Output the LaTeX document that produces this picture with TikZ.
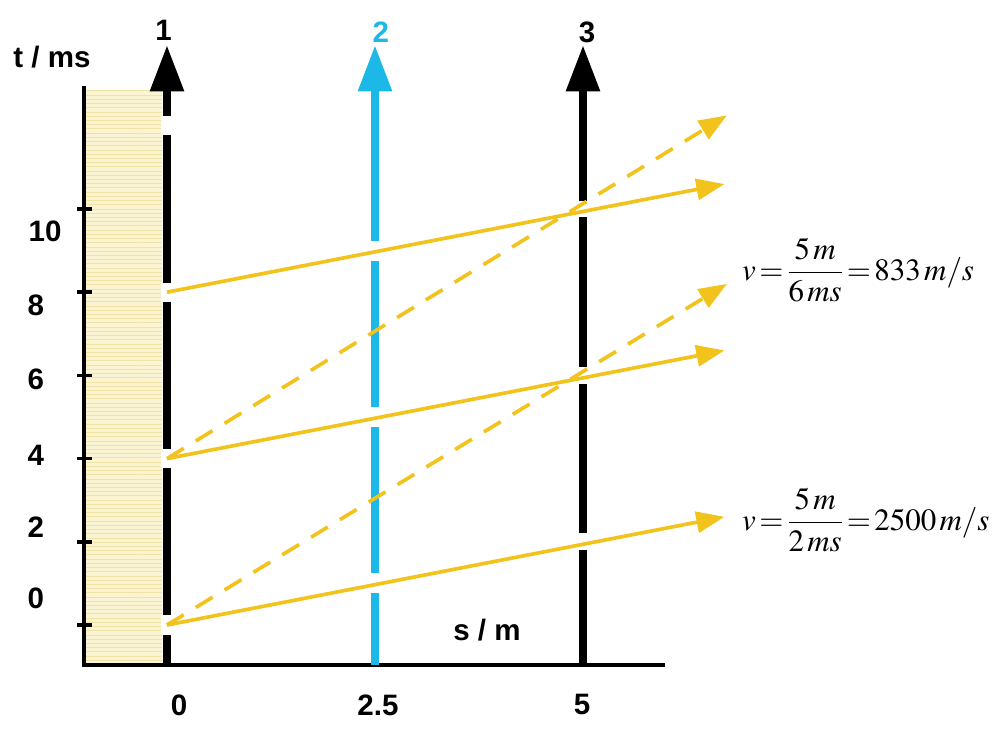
\documentclass[tikz,border=0pt]{standalone}
\usepackage{mathptmx}
\usepackage{fontspec}
\setmainfont{Liberation Serif}
\newfontfamily\labfont{Liberation Sans}
\usetikzlibrary{arrows.meta, patterns}
\definecolor{waveyellow}{HTML}{F2C31C}
\definecolor{probeblue}{HTML}{1CB8E8}
\definecolor{rodfill}{HTML}{FBF4D2}
\definecolor{rodline}{HTML}{EFE3A6}

\begin{document}
\begin{tikzpicture}[
  x=2.08cm, y=1.04cm,
  axis/.style={line width=2.6pt},
  probe/.style={line width=5.8pt, -{Triangle[length=33pt,width=23pt]}},
  gap/.style={draw=white, line width=8pt},
  wave/.style={draw=waveyellow, line width=2.6pt, -{Triangle[length=20pt,width=15pt]}},
  slowwave/.style={wave, dash pattern=on 14pt off 10pt},
  lbl/.style={font=\labfont\bfseries\fontsize{21}{24}\selectfont, inner sep=0pt},
  formula/.style={font=\fontsize{22}{26}\selectfont, inner sep=0pt, anchor=west}
]
  \useasboundingbox (-2.007,-2.788) rectangle (9.940,15.024);

  % rod
  \fill[rodfill] (-0.974,-0.96) rectangle (-0.06,12.86);
  \fill[pattern=horizontal lines, pattern color=rodline] (-0.974,-0.96) rectangle (-0.06,12.86);

  % axes
  \coordinate (origin) at (-1,-0.96);
  \coordinate (tend) at (-1,12.96);
  \coordinate (send) at (5.99,-0.96);
  \draw[axis] (tend) -- (origin) -- (send);
  \foreach \t in {0,2,...,10}
    \draw[axis] (-1.08,\t) -- (-0.9,\t);
  \node[lbl] (tlabel) at (-1.382,13.65) {t / ms};
  \node[lbl] (slabel) at (3.846,-0.12) {s / m};
  \foreach \t/\y/\x in {10/9.47/-1.466, 8/7.69/-1.575, 6/5.91/-1.575, 4/4.09/-1.575, 2/2.36/-1.575, 0/0.65/-1.575}
    \node[lbl] (tick\t) at (\x,\y) {\t};
  \foreach \s/\x in {0/0.144, 2.5/2.536, 5/4.99}
    \node[lbl] (stick\s) at (\x,-1.92) {\s};

  % probes
  \coordinate (p1 bot) at (0,-0.96);
  \coordinate (p1 top) at (0,13.94);
  \coordinate (p2 bot) at (2.5,-0.96);
  \coordinate (p2 top) at (2.5,13.94);
  \coordinate (p3 bot) at (5,-0.96);
  \coordinate (p3 top) at (5,13.94);
  \draw[probe] (p1 bot) -- (p1 top);
  \draw[probe, probeblue] (p2 bot) -- (p2 top);
  \draw[probe] (p3 bot) -- (p3 top);
  \node[lbl] (n1) at (-0.04,14.30) {1};
  \node[lbl, text=probeblue] (n2) at (2.57,14.25) {2};
  \node[lbl] (n3) at (5.05,14.25) {3};

  % gaps in the probes
  \foreach \t in {0,4,8,12}
    \draw[gap] (0,\t-0.23) -- (0,\t+0.23);
  \foreach \t in {1,5,9}
    \draw[gap] (2.5,\t-0.24) -- (2.5,\t+0.24);
  \foreach \t in {2,6,10}
    \draw[gap] (5,\t-0.2) -- (5,\t+0.2);

  % waves
  \foreach \t/\e in {0/8.2, 4/12.25} {
    \coordinate (src\t) at (0,\t);
    \coordinate (slow\t) at (6.73,\e);
    \draw[slowwave] (src\t) -- (slow\t);
  }
  \foreach \t in {0,4,8} {
    \coordinate (src\t) at (0,\t);
    \coordinate (fast\t) at (6.7,{\t+2.6});
    \draw[wave] (src\t) -- (fast\t);
  }

  % speeds
  \node[formula] (vslow) at (6.91,8.53) {$\displaystyle v\,{=}\,\frac{5\,m}{6\,ms}\,{=}\,833\,m/s$};
  \node[formula] (vfast) at (6.91,2.52) {$\displaystyle v\,{=}\,\frac{5\,m}{2\,ms}\,{=}\,2500\,m/s$};
\end{tikzpicture}
\end{document}
